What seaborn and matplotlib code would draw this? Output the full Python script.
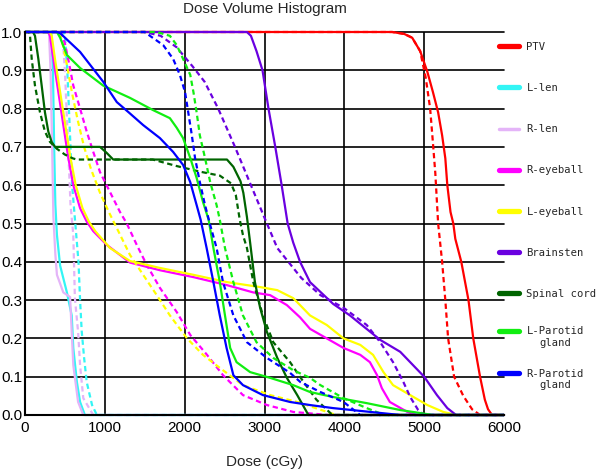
import numpy as np
import pandas as pd
import matplotlib
matplotlib.use("Agg")
import matplotlib.pyplot as plt
from matplotlib.lines import Line2D
from matplotlib.legend_handler import HandlerLine2D
from matplotlib.font_manager import FontProperties
import seaborn as sns

# structures, in legend order
structures = ["PTV", "L-len", "R-len", "R-eyeball", "L-eyeball",
              "Brainsten", "Spinal cord", "L-Parotid gland", "R-Parotid gland"]
legend_labels = ["PTV", "L-len", "R-len", "R-eyeball", "L-eyeball",
                 "Brainsten", "Spinal cord", "L-Parotid\ngland", "R-Parotid\ngland"]
colors = ["#ff0000", "#33f5f5", "#e4b4f8", "#ff00ff", "#ffff00",
          "#6a00e0", "#006400", "#11ee11", "#0000ff"]

# dose (cGy) / fractional volume, solid = plan A, dashed = plan B
ptv_dose_a = [0, 4600, 4750, 4850, 4950, 5040, 5110, 5175, 5225, 5265, 5290, 5330, 5365, 5390, 5465, 5555, 5615, 5700, 5760, 5800, 5850, 6000]
ptv_vol_a = [1, 1, 0.995, 0.985, 0.95, 0.896, 0.843, 0.79, 0.73, 0.67, 0.60, 0.53, 0.50, 0.46, 0.40, 0.30, 0.20, 0.10, 0.04, 0.015, 0, 0]
ptv_dose_b = [0, 4600, 4750, 4850, 4950, 5020, 5075, 5110, 5140, 5175, 5225, 5265, 5300, 5375, 5490, 5600, 5700, 6000]
ptv_vol_b = [1, 1, 0.995, 0.985, 0.95, 0.88, 0.80, 0.71, 0.63, 0.50, 0.40, 0.30, 0.20, 0.10, 0.05, 0.015, 0, 0]

llen_dose_a = [0, 330, 350, 365, 380, 400, 440, 525, 585, 605, 650, 690, 750, 6000]
llen_vol_a = [1, 1, 0.9, 0.7, 0.55, 0.47, 0.39, 0.32, 0.26, 0.175, 0.086, 0.034, 0, 0]
llen_dose_b = [0, 480, 500, 530, 560, 590, 630, 670, 690, 710, 740, 773, 840, 900, 6000]
llen_vol_b = [1, 1, 0.99, 0.9, 0.75, 0.6, 0.5, 0.4, 0.3, 0.22, 0.15, 0.086, 0.026, 0, 0]

rlen_dose_a = [0, 300, 320, 340, 355, 380, 400, 480, 565, 585, 605, 665, 730, 6000]
rlen_vol_a = [1, 1, 0.9, 0.7, 0.52, 0.42, 0.366, 0.32, 0.308, 0.217, 0.13, 0.034, 0, 0]
rlen_dose_b = [0, 450, 470, 500, 540, 570, 605, 625, 665, 690, 730, 855, 6000]
rlen_vol_b = [1, 1, 0.99, 0.9, 0.7, 0.55, 0.47, 0.305, 0.217, 0.13, 0.044, 0, 0]

reye_dose_a = [0, 290, 313, 355, 418, 480, 543, 605, 690, 773, 855, 1025, 1315, 1690, 2110, 2530, 2860, 3070, 3280, 3445, 3570, 3780, 3990, 4200, 4320, 4410, 4470, 4570, 4790, 4900, 6000]
reye_vol_a = [1, 1, 0.99, 0.93, 0.843, 0.757, 0.671, 0.6, 0.54, 0.505, 0.48, 0.444, 0.398, 0.378, 0.36, 0.339, 0.32, 0.313, 0.287, 0.255, 0.225, 0.2, 0.175, 0.157, 0.138, 0.104, 0.07, 0.034, 0.008, 0, 0]
reye_dose_b = [0, 450, 500, 550, 605, 690, 773, 855, 940, 1065, 1190, 1275, 1400, 1525, 1690, 1900, 2070, 2280, 2480, 2730, 3030, 3360, 3800, 6000]
reye_vol_b = [1, 1, 0.97, 0.92, 0.86, 0.80, 0.74, 0.687, 0.634, 0.582, 0.53, 0.50, 0.444, 0.392, 0.332, 0.269, 0.209, 0.157, 0.104, 0.052, 0.026, 0.008, 0, 0]

leye_dose_a = [0, 310, 335, 375, 440, 505, 570, 635, 720, 800, 880, 1065, 1315, 1690, 2110, 2530, 2945, 3160, 3360, 3445, 3570, 3780, 3990, 4200, 4360, 4490, 4610, 4825, 5040, 5240, 5400, 6000]
leye_vol_a = [1, 1, 0.99, 0.93, 0.843, 0.757, 0.671, 0.6, 0.54, 0.505, 0.48, 0.436, 0.402, 0.384, 0.366, 0.347, 0.334, 0.326, 0.305, 0.287, 0.26, 0.235, 0.2, 0.183, 0.157, 0.112, 0.078, 0.052, 0.026, 0.008, 0, 0]
leye_dose_b = [0, 420, 460, 520, 590, 660, 740, 830, 940, 1050, 1150, 1315, 1480, 1650, 1815, 2030, 2230, 2440, 2730, 3070, 3410, 3900, 6000]
leye_vol_b = [1, 1, 0.98, 0.92, 0.84, 0.77, 0.70, 0.64, 0.58, 0.53, 0.488, 0.418, 0.366, 0.313, 0.26, 0.2, 0.157, 0.123, 0.078, 0.052, 0.034, 0, 0]

brain_dose_a = [0, 2780, 2830, 2900, 2975, 3050, 3135, 3215, 3290, 3360, 3445, 3570, 3860, 4070, 4450, 4700, 5000, 5160, 5290, 5400, 6000]
brain_vol_a = [1, 1, 0.99, 0.95, 0.90, 0.80, 0.70, 0.60, 0.50, 0.45, 0.40, 0.347, 0.29, 0.26, 0.196, 0.165, 0.10, 0.052, 0.018, 0, 0]
brain_dose_b = [0, 1500, 1700, 1900, 2100, 2250, 2420, 2630, 2830, 2990, 3160, 3460, 3700, 3990, 4280, 4450, 4610, 4740, 4825, 4925, 5000, 6000]
brain_vol_b = [1, 1, 0.99, 0.96, 0.91, 0.87, 0.80, 0.70, 0.60, 0.52, 0.436, 0.358, 0.313, 0.28, 0.235, 0.19, 0.138, 0.086, 0.047, 0.013, 0, 0]

cord_dose_a = [0, 100, 125, 167, 209, 250, 292, 334, 376, 940, 1020, 1105, 2530, 2610, 2700, 2735, 2780, 2820, 2880, 2945, 3030, 3160, 3280, 3410, 3550, 6000]
cord_vol_a = [1, 1, 0.99, 0.93, 0.86, 0.79, 0.74, 0.713, 0.70, 0.70, 0.685, 0.667, 0.667, 0.648, 0.61, 0.58, 0.517, 0.45, 0.347, 0.28, 0.217, 0.149, 0.097, 0.052, 0, 0]
cord_dose_b = [0, 50, 63, 84, 125, 188, 250, 313, 400, 500, 600, 650, 1600, 1900, 2200, 2440, 2580, 2640, 2690, 2730, 2780, 2860, 2980, 3110, 3320, 3490, 3650, 3850, 6000]
cord_vol_b = [1, 1, 0.99, 0.93, 0.86, 0.79, 0.74, 0.713, 0.695, 0.68, 0.67, 0.667, 0.667, 0.65, 0.635, 0.625, 0.605, 0.575, 0.51, 0.47, 0.436, 0.347, 0.26, 0.19, 0.138, 0.086, 0.04, 0, 0]

lpar_dose_a = [0, 400, 440, 525, 690, 980, 1315, 1605, 1815, 1900, 1980, 2070, 2150, 2230, 2300, 2360, 2440, 2505, 2570, 2650, 2820, 3070, 3360, 3570, 3860, 4280, 4700, 5110, 6000]
lpar_vol_a = [1, 1, 0.985, 0.94, 0.906, 0.86, 0.828, 0.796, 0.775, 0.75, 0.723, 0.671, 0.619, 0.556, 0.51, 0.436, 0.347, 0.26, 0.175, 0.138, 0.112, 0.097, 0.078, 0.06, 0.047, 0.031, 0.013, 0, 0]
lpar_dose_b = [0, 1650, 1815, 1900, 1980, 2070, 2110, 2150, 2190, 2255, 2320, 2400, 2440, 2505, 2610, 2730, 2900, 3110, 3360, 3570, 3700, 3990, 4280, 4500, 6000]
lpar_vol_b = [1, 1, 0.99, 0.966, 0.93, 0.888, 0.843, 0.79, 0.73, 0.671, 0.608, 0.548, 0.51, 0.436, 0.347, 0.26, 0.19, 0.149, 0.117, 0.097, 0.078, 0.044, 0.018, 0, 0]

rpar_dose_a = [0, 400, 440, 690, 980, 1150, 1300, 1480, 1690, 1855, 1980, 2070, 2150, 2200, 2275, 2360, 2440, 2525, 2610, 2730, 2980, 3320, 3570, 3860, 4700, 6000]
rpar_vol_a = [1, 1, 0.997, 0.948, 0.87, 0.817, 0.79, 0.757, 0.723, 0.687, 0.653, 0.608, 0.548, 0.51, 0.436, 0.347, 0.26, 0.175, 0.104, 0.078, 0.052, 0.034, 0.026, 0.018, 0, 0]
rpar_dose_b = [0, 1500, 1565, 1730, 1855, 1940, 2005, 2045, 2090, 2130, 2190, 2255, 2320, 2400, 2480, 2610, 2780, 3030, 3320, 3450, 3700, 3990, 4200, 6000]
rpar_vol_b = [1, 1, 0.99, 0.966, 0.93, 0.888, 0.843, 0.79, 0.73, 0.671, 0.608, 0.548, 0.496, 0.436, 0.347, 0.26, 0.19, 0.149, 0.11, 0.086, 0.06, 0.034, 0, 0]

curves = [
    ("PTV", ptv_dose_a, ptv_vol_a, ptv_dose_b, ptv_vol_b),
    ("L-len", llen_dose_a, llen_vol_a, llen_dose_b, llen_vol_b),
    ("R-len", rlen_dose_a, rlen_vol_a, rlen_dose_b, rlen_vol_b),
    ("R-eyeball", reye_dose_a, reye_vol_a, reye_dose_b, reye_vol_b),
    ("L-eyeball", leye_dose_a, leye_vol_a, leye_dose_b, leye_vol_b),
    ("Brainsten", brain_dose_a, brain_vol_a, brain_dose_b, brain_vol_b),
    ("Spinal cord", cord_dose_a, cord_vol_a, cord_dose_b, cord_vol_b),
    ("L-Parotid gland", lpar_dose_a, lpar_vol_a, lpar_dose_b, lpar_vol_b),
    ("R-Parotid gland", rpar_dose_a, rpar_vol_a, rpar_dose_b, rpar_vol_b),
]

rows = []
for name, da, va, db, vb in curves:
    for d, v in zip(da, va):
        rows.append((name, "Plan A", d, v))
    for d, v in zip(db, vb):
        rows.append((name, "Plan B", d, v))
df = pd.DataFrame(rows, columns=["structure", "plan", "dose", "volume"])

sns.set_style("white")
plt.rcParams["font.family"] = ["Liberation Sans", "DejaVu Sans"]

fig = plt.figure(figsize=(6, 4.72), dpi=100)
ax = fig.add_axes([25 / 600, 57 / 472, 479 / 600, 383 / 472])

sns.lineplot(data=df, x="dose", y="volume", hue="structure", style="plan",
             hue_order=structures, style_order=["Plan B", "Plan A"],
             palette=colors, dashes={"Plan A": "", "Plan B": (2.4, 1.6)},
             estimator=None, sort=False, linewidth=1.6, legend=False, ax=ax)
for line in ax.lines:
    line.set_clip_on(False)

ax.set_xlim(0, 6000)
ax.set_ylim(0, 1.0)
ax.set_xticks(np.arange(0, 6001, 1000))
ax.set_yticks(np.arange(0, 1.01, 0.1))
ax.set_yticklabels([f"{t:.1f}" for t in np.arange(0, 1.01, 0.1)])
ax.tick_params(length=0, labelsize=11, colors="black")
ax.tick_params(axis="y", pad=2)
ax.tick_params(axis="x", pad=4)
ax.grid(True, color="black", linewidth=1.2)
ax.set_axisbelow(True)
for gl in ax.get_ygridlines():
    gl.set_clip_on(False)
ax.get_xgridlines()[-1].set_visible(False)
for side in ["top", "right"]:
    ax.spines[side].set_visible(False)
for side in ["left", "bottom"]:
    ax.spines[side].set_color("black")
    ax.spines[side].set_linewidth(1.5)

ax.set_xlabel("Dose (cGy)", fontsize=11, labelpad=15)
ax.set_ylabel("")
ax.set_title("Dose Volume Histogram", fontsize=11, pad=14)


# legend swatch sits on the first line of a two-line label
class HandlerFirstLine(HandlerLine2D):
    def create_artists(self, legend, orig_handle, xdescent, ydescent,
                       width, height, fontsize, trans):
        artists = super().create_artists(legend, orig_handle, xdescent, ydescent,
                                         width, height, fontsize, trans)
        for a in artists:
            a.set_ydata(np.asarray(a.get_ydata()) + 0.6 * fontsize)
        return artists


handles = [Line2D([], [], color=c, lw=2.5 if s == "R-len" else 3.8)
           for s, c in zip(structures, colors)]
leg_font = FontProperties(family="DejaVu Sans Mono", size=7.6)
leg_kw = dict(loc="upper left", bbox_transform=fig.transFigure, frameon=False,
              handlelength=1.9, handletextpad=0.7, borderpad=0, borderaxespad=0,
              prop=leg_font)

leg1 = ax.legend(handles[:7], legend_labels[:7],
                 bbox_to_anchor=(499 / 600, 1 - 42 / 472),
                 labelspacing=2.95, **leg_kw)
ax.add_artist(leg1)
leg2 = ax.legend(handles[7:], legend_labels[7:],
                 bbox_to_anchor=(499 / 600, 1 - 326 / 472),
                 labelspacing=2.0,
                 handler_map={h: HandlerFirstLine() for h in handles[7:]},
                 **leg_kw)
for t in leg2.get_texts():
    t.set_multialignment("center")

fig.savefig("out.png", dpi=100)
